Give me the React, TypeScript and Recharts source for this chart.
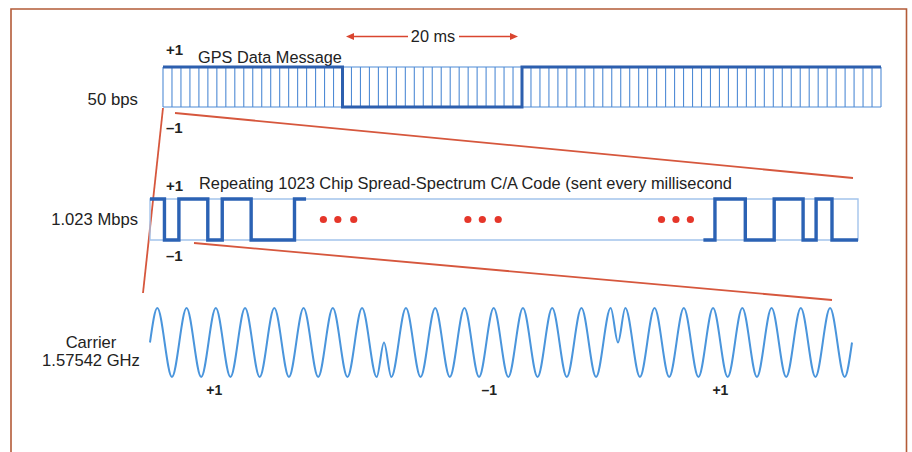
import {
  CartesianGrid,
  ComposedChart,
  Line,
  LineChart,
  ReferenceArea,
  Scatter,
  XAxis,
  YAxis,
} from "recharts";

// GPS data message, 50 bps -> one bit per 20 ms, 80 ms shown
const messageTimeMs = [0, 20, 40, 60, 80];
const messageLevel = [1, -1, 1, 1, 1];
// one C/A code period every millisecond
const codePeriodTicksMs = Array.from({ length: 81 }, (_, i) => i);

// C/A code chips, only the first and last few are drawn
const chipHeadAt = [0, 1, 2, 4, 5, 7, 10, 10.8];
const chipHeadLevel = [1, -1, 1, -1, 1, -1, 1, 1];
const chipTailAt = [38.3, 39.1, 41.2, 43.2, 45.2, 46.1, 47.2, 49];
const chipTailLevel = [-1, 1, -1, 1, -1, 1, -1, -1];
const ellipsisAt = [12, 13, 14.1, 22, 23, 24.1, 35.4, 36.4, 37.4];

// carrier, peaks / troughs in cycles, phase flips at 8 and 16
const carrierCycle = [
  0, 0.25, 0.75, 1.25, 1.75, 2.25, 2.75, 3.25, 3.75, 4.25, 4.75, 5.25, 5.75,
  6.25, 6.75, 7.25, 7.75, 8, 8.25, 8.75, 9.25, 9.75, 10.25, 10.75, 11.25,
  11.75, 12.25, 12.75, 13.25, 13.75, 14.25, 14.75, 15.25, 15.75, 16, 16.25,
  16.75, 17.25, 17.75, 18.25, 18.75, 19.25, 19.75, 20.25, 20.75, 21.25, 21.75,
  22.25, 22.75, 23.25, 23.75, 24,
];
const carrierLevel = [
  0, 1, -1, 1, -1, 1, -1, 1, -1, 1, -1, 1, -1, 1, -1, 1, -1, 0, -1, 1, -1, 1,
  -1, 1, -1, 1, -1, 1, -1, 1, -1, 1, -1, 1, 0, 1, -1, 1, -1, 1, -1, 1, -1, 1,
  -1, 1, -1, 1, -1, 1, -1, 0,
];
const carrierChipAt = [2.2, 11.6, 19.5];
const carrierChipLabel = ["+1", "\u20131", "+1"];

const messageData = messageTimeMs.map((t, i) => ({ t, v: messageLevel[i] }));
const chipHead = chipHeadAt.map((chip, i) => ({ chip, v: chipHeadLevel[i] }));
const chipTail = chipTailAt.map((chip, i) => ({ chip, v: chipTailLevel[i] }));
const ellipsis = ellipsisAt.map((chip) => ({ chip, v: 0 }));
const carrierData = carrierCycle.map((t, i) => ({ t, v: carrierLevel[i] }));

const FONT = "'Liberation Sans', Arial, Helvetica, sans-serif";
const INK = "#222";
const ZOOM_RED = "#d6573d";

const Overlay = () => (
  <svg
    width={912}
    height={452}
    style={{ position: "absolute", left: 0, top: 0 }}
    fontFamily={FONT}
  >
    <path
      d="M11,460 L11,9 L906.5,9 L906.5,460"
      fill="none"
      stroke="#b35b37"
      strokeWidth={1.6}
    />
    {/* 20 ms arrow */}
    <line x1={350} y1={36.5} x2={408} y2={36.5} stroke="#d9452f" strokeWidth={1.6} />
    <line x1={459} y1={36.5} x2={514} y2={36.5} stroke="#d9452f" strokeWidth={1.6} />
    <polygon points="346,36.5 354,33 354,40" fill="#d9452f" />
    <polygon points="518,36.5 510,33 510,40" fill="#d9452f" />
    <text x={433} y={42} fontSize={16.3} fill={INK} textAnchor="middle">
      20 ms
    </text>
    {/* zoom lines */}
    <line x1={163} y1={108} x2={143} y2={293} stroke={ZOOM_RED} strokeWidth={1.8} />
    <line x1={175} y1={113} x2={853} y2={178} stroke={ZOOM_RED} strokeWidth={1.8} />
    <line x1={194} y1={243} x2={832} y2={300} stroke={ZOOM_RED} strokeWidth={1.8} />
    {/* labels */}
    <text x={166} y={55} fontSize={15} fontWeight={700} fill={INK}>+1</text>
    <text x={166} y={133} fontSize={15} fontWeight={700} fill={INK}>{"\u20131"}</text>
    <text x={198} y={63} fontSize={16.3} fill={INK}>GPS Data Message</text>
    <text x={138} y={105} fontSize={16.8} fill={INK} textAnchor="end">50 bps</text>
    <text x={166} y={191} fontSize={15} fontWeight={700} fill={INK}>+1</text>
    <text x={166} y={261} fontSize={15} fontWeight={700} fill={INK}>{"\u20131"}</text>
    <text x={199} y={189} fontSize={16.4} fill={INK}>
      Repeating 1023 Chip Spread-Spectrum C/A Code (sent every millisecond
    </text>
    <text x={138} y={225} fontSize={16.6} fill={INK} textAnchor="end">1.023 Mbps</text>
    <text x={91} y={348} fontSize={16.6} fill={INK} textAnchor="middle">Carrier</text>
    <text x={91} y={366} fontSize={16.6} fill={INK} textAnchor="middle">1.57542 GHz</text>
  </svg>
);

const App = () => {
  return (
    <div
      style={{
        position: "absolute",
        left: 0,
        top: 0,
        width: 912,
        height: 452,
        background: "#fff",
        fontFamily: FONT,
        overflow: "hidden",
      }}
    >
      <Overlay />

      <div style={{ position: "absolute", left: 157, top: 61 }}>
        <LineChart
          width={730}
          height={52}
          data={messageData}
          margin={{ top: 6, right: 6, bottom: 6, left: 6 }}
        >
          <XAxis
            type="number"
            dataKey="t"
            domain={[0, 80]}
            ticks={codePeriodTicksMs}
            interval={0}
            hide
          />
          <YAxis type="number" domain={[-1, 1]} ticks={[-1, 1]} interval={0} hide />
          <CartesianGrid stroke="#4f8bd5" strokeWidth={1.1} />
          <Line
            type="stepAfter"
            dataKey="v"
            stroke="#2d5fae"
            strokeWidth={3}
            dot={false}
            isAnimationActive={false}
          />
        </LineChart>
      </div>

      <div style={{ position: "absolute", left: 144, top: 193 }}>
        <ComposedChart
          width={720}
          height={53}
          margin={{ top: 6, right: 6, bottom: 6, left: 6 }}
        >
          <XAxis type="number" dataKey="chip" domain={[0, 49]} hide />
          <YAxis type="number" dataKey="v" domain={[-1, 1]} hide />
          <ReferenceArea
            x1={0}
            x2={49}
            y1={-1}
            y2={1}
            fill="none"
            stroke="#a3c4ec"
            strokeWidth={1.4}
          />
          <Line
            data={chipHead}
            type="stepAfter"
            dataKey="v"
            stroke="#2b62b4"
            strokeWidth={3.4}
            dot={false}
            isAnimationActive={false}
          />
          <Line
            data={chipTail}
            type="stepAfter"
            dataKey="v"
            stroke="#2b62b4"
            strokeWidth={3.4}
            dot={false}
            isAnimationActive={false}
          />
          <Scatter
            data={ellipsis}
            dataKey="v"
            isAnimationActive={false}
            shape={(p: any) => <circle cx={p.cx} cy={p.cy} r={3.6} fill="#e5362a" />}
          />
        </ComposedChart>
      </div>

      <div style={{ position: "absolute", left: 144, top: 302 }}>
        <LineChart
          width={714}
          height={105}
          data={carrierData}
          margin={{ top: 6, right: 6, bottom: 0, left: 6 }}
        >
          <XAxis
            type="number"
            dataKey="t"
            domain={[0, 24]}
            ticks={carrierChipAt}
            interval={0}
            height={30}
            axisLine={false}
            tickLine={false}
            tickFormatter={(v: number) => carrierChipLabel[carrierChipAt.indexOf(v)]}
            tick={{ fill: INK, fontSize: 14, fontWeight: 700, fontFamily: FONT }}
          />
          <YAxis type="number" domain={[-1, 1]} hide />
          <Line
            type="monotone"
            dataKey="v"
            stroke="#4a95dc"
            strokeWidth={2}
            dot={false}
            isAnimationActive={false}
          />
        </LineChart>
      </div>
    </div>
  );
};

export default App;
